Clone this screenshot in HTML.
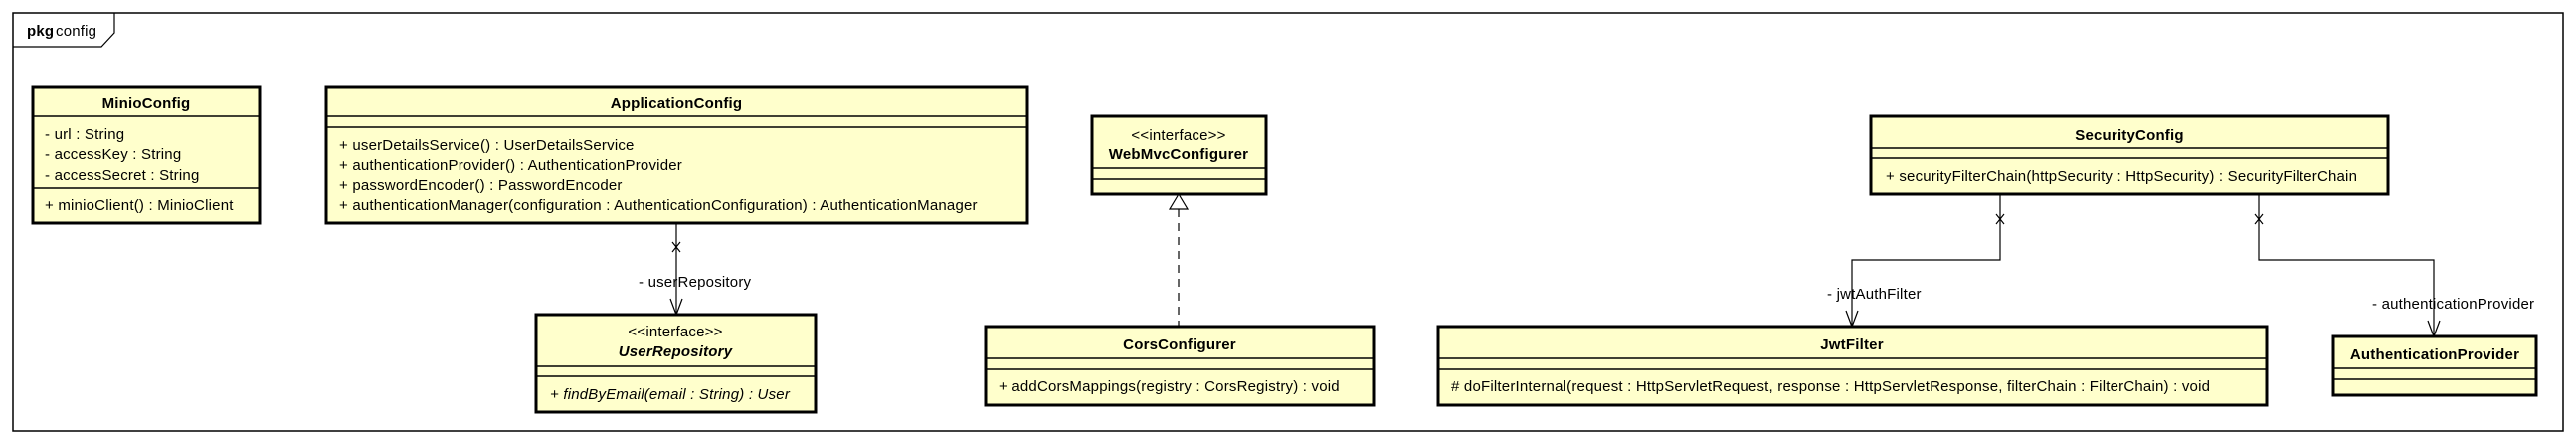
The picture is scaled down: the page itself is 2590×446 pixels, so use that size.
<!DOCTYPE html>
<html><head><meta charset="utf-8"><style>
html,body{margin:0;padding:0;background:#fff;width:2590px;height:446px;overflow:hidden}
text{font-family:"Liberation Sans",Arial,sans-serif;font-size:15px;letter-spacing:0.2px;fill:#000}
.b{font-weight:bold}
.box{fill:#ffffcc;stroke:#000;stroke-width:3}
.sep{stroke:#000;stroke-width:1.5}
.ln{stroke:#000;stroke-width:1.2;fill:none}
</style></head><body>
<svg width="2590" height="446" xmlns="http://www.w3.org/2000/svg">
<rect x="13" y="13" width="2564" height="420" fill="#fff" stroke="#000" stroke-width="1.5"/>
<path d="M13 47 L102 47 L115 33 L115 13" fill="none" stroke="#000" stroke-width="1.2"/>
<text x="27" y="36" class="b">pkg</text><text x="56" y="36">config</text>

<!-- MinioConfig -->
<rect class="box" x="33" y="87" width="228" height="137"/>
<line class="sep" x1="33" y1="117" x2="261" y2="117"/>
<line class="sep" x1="33" y1="189" x2="261" y2="189"/>
<text x="147" y="108" class="b" text-anchor="middle">MinioConfig</text>
<text x="45" y="140">- url : String</text>
<text x="45" y="160">- accessKey : String</text>
<text x="45" y="181">- accessSecret : String</text>
<text x="45" y="211">+ minioClient() : MinioClient</text>

<!-- ApplicationConfig -->
<rect class="box" x="328" y="87" width="705" height="137"/>
<line class="sep" x1="328" y1="117" x2="1033" y2="117"/>
<line class="sep" x1="328" y1="128" x2="1033" y2="128"/>
<text x="680" y="108" class="b" text-anchor="middle">ApplicationConfig</text>
<text x="341" y="151">+ userDetailsService() : UserDetailsService</text>
<text x="341" y="171">+ authenticationProvider() : AuthenticationProvider</text>
<text x="341" y="191">+ passwordEncoder() : PasswordEncoder</text>
<text x="341" y="211">+ authenticationManager(configuration : AuthenticationConfiguration) : AuthenticationManager</text>

<!-- assoc App -> UserRepository -->
<line class="ln" x1="680" y1="224" x2="680" y2="316"/>
<path class="ln" d="M676 243 L684 253 M684 243 L676 253"/>
<path class="ln" d="M674 300 L680 316 L686 300"/>
<text x="642" y="288">- userRepository</text>

<!-- UserRepository -->
<rect class="box" x="539" y="316" width="281" height="98"/>
<line class="sep" x1="539" y1="368" x2="820" y2="368"/>
<line class="sep" x1="539" y1="378" x2="820" y2="378"/>
<text x="679" y="338" text-anchor="middle">&lt;&lt;interface&gt;&gt;</text>
<text x="679" y="358" class="b" font-style="italic" text-anchor="middle">UserRepository</text>
<text x="553" y="401" font-style="italic">+ findByEmail(email : String) : User</text>

<!-- WebMvcConfigurer -->
<rect class="box" x="1098" y="117" width="175" height="78"/>
<line class="sep" x1="1098" y1="169" x2="1273" y2="169"/>
<line class="sep" x1="1098" y1="180" x2="1273" y2="180"/>
<text x="1185" y="141" text-anchor="middle">&lt;&lt;interface&gt;&gt;</text>
<text x="1185" y="160" class="b" text-anchor="middle">WebMvcConfigurer</text>

<!-- realization -->
<line x1="1185" y1="210" x2="1185" y2="328" stroke="#000" stroke-width="1.2" stroke-dasharray="8,6"/>
<path d="M1185 195 L1176 210 L1194 210 Z" fill="#fff" stroke="#000" stroke-width="1.2"/>

<!-- CorsConfigurer -->
<rect class="box" x="991" y="328" width="390" height="79"/>
<line class="sep" x1="991" y1="360" x2="1381" y2="360"/>
<line class="sep" x1="991" y1="371" x2="1381" y2="371"/>
<text x="1186" y="351" class="b" text-anchor="middle">CorsConfigurer</text>
<text x="1004" y="393">+ addCorsMappings(registry : CorsRegistry) : void</text>

<!-- SecurityConfig -->
<rect class="box" x="1881" y="117" width="520" height="78"/>
<line class="sep" x1="1881" y1="149" x2="2401" y2="149"/>
<line class="sep" x1="1881" y1="159" x2="2401" y2="159"/>
<text x="2141" y="141" class="b" text-anchor="middle">SecurityConfig</text>
<text x="1896" y="182">+ securityFilterChain(httpSecurity : HttpSecurity) : SecurityFilterChain</text>

<!-- assoc to JwtFilter -->
<path class="ln" d="M2011 195 L2011 261 L1862 261 L1862 328"/>
<path class="ln" d="M2007 215 L2015 225 M2015 215 L2007 225"/>
<path class="ln" d="M1856 312 L1862 328 L1868 312"/>
<text x="1837" y="300">- jwtAuthFilter</text>

<!-- assoc to AuthenticationProvider -->
<path class="ln" d="M2271 195 L2271 261 L2447 261 L2447 338"/>
<path class="ln" d="M2267 215 L2275 225 M2275 215 L2267 225"/>
<path class="ln" d="M2441 322 L2447 338 L2453 322"/>
<text x="2385" y="310">- authenticationProvider</text>

<!-- JwtFilter -->
<rect class="box" x="1446" y="328" width="833" height="79"/>
<line class="sep" x1="1446" y1="360" x2="2279" y2="360"/>
<line class="sep" x1="1446" y1="371" x2="2279" y2="371"/>
<text x="1862" y="351" class="b" text-anchor="middle">JwtFilter</text>
<text x="1459" y="393"># doFilterInternal(request : HttpServletRequest, response : HttpServletResponse, filterChain : FilterChain) : void</text>

<!-- AuthenticationProvider -->
<rect class="box" x="2346" y="338" width="204" height="59"/>
<line class="sep" x1="2346" y1="370" x2="2550" y2="370"/>
<line class="sep" x1="2346" y1="381" x2="2550" y2="381"/>
<text x="2448" y="361" class="b" text-anchor="middle">AuthenticationProvider</text>
</svg>
</body></html>
